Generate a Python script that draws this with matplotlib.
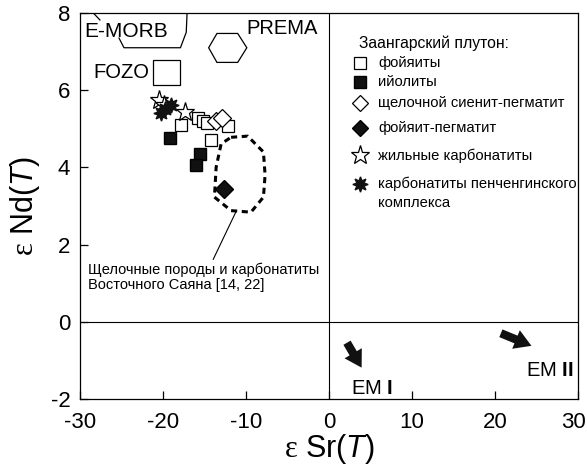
import matplotlib
matplotlib.use("Agg")
import matplotlib.pyplot as plt
import matplotlib.transforms as mtransforms
from matplotlib.patches import Polygon, FancyArrowPatch

plt.rcParams['font.family'] = ['Liberation Sans', 'DejaVu Sans']
plt.rcParams['mathtext.fontset'] = 'custom'
plt.rcParams['mathtext.rm'] = 'Liberation Sans'
plt.rcParams['mathtext.it'] = 'Liberation Sans:italic'
plt.rcParams['mathtext.bf'] = 'Liberation Sans:bold'
plt.rcParams['mathtext.cal'] = 'Liberation Serif'
plt.rcParams['axes.unicode_minus'] = False

# Заангарский плутон - eSr(T), eNd(T)
foyait_sr = [-17.8, -15.8, -15.2, -14.7, -12.2, -14.2]
foyait_nd = [5.10, 5.29, 5.20, 5.16, 5.06, 4.70]
ijolit_sr = [-19.1, -15.5, -16.0]
ijolit_nd = [4.76, 4.34, 4.05]
syenpeg_sr = [-13.6, -12.9]
syenpeg_nd = [5.20, 5.28]
foypeg_sr = [-12.6]
foypeg_nd = [3.43]
carb_sr = [-20.5, -19.9, -17.4]
carb_nd = [5.75, 5.62, 5.44]
penchenga_sr = [-20.3, -19.7, -19.0]
penchenga_nd = [5.42, 5.52, 5.61]

# mantle reservoirs
prema_x = [-14.5, -13.5, -11.0, -9.9, -11.0, -13.5]
prema_y = [7.10, 7.47, 7.47, 7.10, 6.72, 6.72]
fozo_x = [-21.2, -17.9, -17.9, -21.2]
fozo_y = [6.78, 6.78, 6.13, 6.13]
emorb_x = [-17.1, -17.2, -17.9, -24.7, -25.3]
emorb_y = [8.0, 7.5, 7.1, 7.1, 7.35]
sayan_x = [-11.8, -9.8, -7.9, -7.7, -7.9, -9.4, -11.8, -13.8, -13.6, -13.0, -11.8]
sayan_y = [4.78, 4.81, 4.40, 3.80, 3.23, 2.84, 2.88, 3.23, 4.00, 4.61, 4.78]

fig = plt.figure(figsize=(5.87, 4.70), dpi=100)
ax = fig.add_axes([80 / 587, 1 - 399 / 470, 498 / 587, 386 / 470])
ax.set_xlim(-30, 30)
ax.set_ylim(-2, 8)

ax.axvline(0, color='k', lw=0.8)
ax.axhline(0, color='k', lw=0.8)

ax.add_patch(Polygon(list(zip(prema_x, prema_y)), closed=True, fill=False, ec='k', lw=0.9))
ax.add_patch(Polygon(list(zip(fozo_x, fozo_y)), closed=True, fill=False, ec='k', lw=0.9))
ax.plot(emorb_x, emorb_y, color='k', lw=0.9)
ax.plot([-28.4, -27.6], [8.0, 7.82], color='k', lw=0.9)
ax.plot(sayan_x, sayan_y, color='k', lw=2.2, ls=(0, (2.0, 1.5)))

asterisk = (8, 1, 0)
ax.plot(foyait_sr, foyait_nd, 's', mfc='white', mec='k', ms=9, mew=0.9, ls='none')
ax.plot(ijolit_sr, ijolit_nd, 's', mfc='#111111', mec='k', ms=9, ls='none')
ax.plot(syenpeg_sr, syenpeg_nd, 'D', mfc='white', mec='k', ms=9, mew=0.9, ls='none')
ax.plot(foypeg_sr, foypeg_nd, 'D', mfc='#111111', mec='k', ms=9, ls='none')
ax.plot(carb_sr, carb_nd, '*', mfc='white', mec='k', ms=14, mew=0.9, ls='none')
ax.plot(penchenga_sr, penchenga_nd, marker=asterisk, color='#111111', ms=11, ls='none')

ax.text(-29.5, 7.53, 'E-MORB', fontsize=15, ha='left', va='center')
ax.text(-10.0, 7.61, 'PREMA', fontsize=14.5, ha='left', va='center')
ax.text(-21.6, 6.47, 'FOZO', fontsize=14.5, ha='right', va='center')

ax.annotate('', xy=(-11.1, 2.9), xytext=(-14.1, 1.55),
            arrowprops=dict(arrowstyle='-', color='k', lw=0.8))
ax.text(-29.0, 1.15, 'Щелочные породы и карбонатиты\nВосточного Саяна [14, 22]',
        fontsize=10.5, ha='left', va='center', linespacing=1.15)

for start, end in [((2.0, -0.48), (4.1, -1.25)), ((20.4, -0.27), (24.7, -0.65))]:
    ax.add_patch(FancyArrowPatch(start, end,
                                 arrowstyle='simple,head_width=1.2,head_length=1.0,tail_width=0.5',
                                 mutation_scale=12, color='#111111', lw=0))
ax.text(5.2, -1.72, r'EM $\mathbf{I}$', fontsize=14.5, ha='center', va='center')
ax.text(26.6, -1.25, r'EM $\mathbf{II}$', fontsize=14.5, ha='center', va='center')

# legend
mx, tx = 3.7, 5.9
ax.text(3.6, 7.22, 'Заангарский плутон:', fontsize=11.3, ha='left', va='center')
items = [
    (6.70, dict(marker='s', mfc='white', mec='k', ms=8, mew=0.9), 'фойяиты'),
    (6.21, dict(marker='s', mfc='#111111', mec='k', ms=8), 'ийолиты'),
    (5.66, dict(marker='D', mfc='white', mec='k', ms=8, mew=0.9), 'щелочной сиенит-пегматит'),
    (5.01, dict(marker='D', mfc='#111111', mec='k', ms=8), 'фойяит-пегматит'),
    (4.31, dict(marker='*', mfc='white', mec='k', ms=14, mew=0.9), 'жильные карбонатиты'),
]
for yy, style, label in items:
    ax.plot([mx], [yy], ls='none', **style)
    ax.text(tx, yy, label, fontsize=10.6, ha='left', va='center')
ax.plot([mx], [3.58], marker=asterisk, color='#111111', ms=11, ls='none')
ax.text(tx, 3.58, 'карбонатиты пенченгинского', fontsize=10.6, ha='left', va='center')
ax.text(tx, 3.09, 'комплекса', fontsize=10.6, ha='left', va='center')

ax.set_xticks([-30, -20, -10, 0, 10, 20, 30])
ax.set_yticks([-2, 0, 2, 4, 6, 8])
ax.tick_params(direction='in', length=6, width=0.9, labelsize=16,
               top=False, right=False)
ax.tick_params(axis='x', pad=9)
ax.tick_params(axis='y', pad=7)
for s in ax.spines.values():
    s.set_linewidth(0.9)

# nudge the last x tick label so it stays inside the figure
last = ax.get_xticklabels()[-1]
last.set_transform(last.get_transform() + mtransforms.ScaledTranslation(-5 / 100, 0, fig.dpi_scale_trans))

ax.set_xlabel(r'$\mathcal{\varepsilon}$ Sr($\it{T}$)', fontsize=22, labelpad=0)
ax.set_ylabel(r'$\mathcal{\varepsilon}$ Nd($\it{T}$)', fontsize=22, labelpad=6)

fig.savefig('out.png', dpi=100)
